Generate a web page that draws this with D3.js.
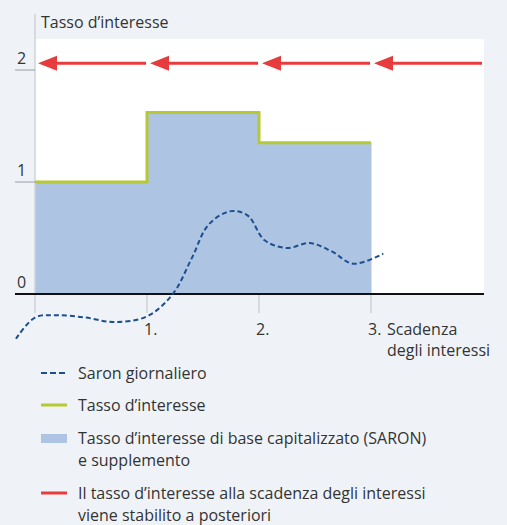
<!doctype html>
<meta charset=utf8>
<title>Tasso d'interesse SARON</title>
<style>
  body { margin: 0; background: #eff3f8; }
  svg { display: block; }
  text { font-family: "Open Sans", sans-serif; font-size: 16px; fill: #333; }
</style>
<svg width=507 height=525></svg>
<script src=https://d3js.org/d3.v7.min.js></script>
<script>
  // periods and the interest rate fixed for each one
  var periodStart = [0, 1, 2];
  var periodEnd = [1, 2, 3];
  var rates = [1.0, 1.62, 1.35];

  // arrows: rate is set at the end of each period, looking back
  var arrowFrom = [1, 2, 3, 4];
  var arrowTo = [0, 1, 2, 3];
  var arrowLevel = 2.06;

  // daily SARON
  var saronX = [-0.17, 0.0, 0.2, 0.45, 0.7, 1.0, 1.23, 1.4, 1.55, 1.75, 1.9, 2.05, 2.25, 2.45, 2.65, 2.84, 3.11];
  var saronY = [-0.40, -0.21, -0.19, -0.21, -0.25, -0.2, 0.0, 0.32, 0.62, 0.74, 0.70, 0.48, 0.41, 0.455, 0.38, 0.27, 0.36];

  var yTicks = [0, 1, 2];
  var xTicks = [0, 1, 2, 3];
  var xTickLabels = ['', '1.', '2.', '3.'];

  var legendLabels = [
    ['Saron giornaliero'],
    ['Tasso d’interesse'],
    ['Tasso d’interesse di base capitalizzato (SARON)', 'e supplemento'],
    ['Il tasso d’interesse alla scadenza degli interessi', 'viene stabilito a posteriori']
  ];

  var colors = {
    saron: '#1d4f8f',
    rate: '#b6c933',
    area: '#adc4e2',
    arrow: '#e63c3e'
  };

  var svg = d3.select('svg');
  var x = d3.scaleLinear().domain([0, 4]).range([35, 483]);
  var y = d3.scaleLinear().domain([0, 2]).range([294, 70]);

  svg.append('rect').attr('width', 507).attr('height', 525).attr('fill', '#eff3f8');

  // white plot area
  svg.append('rect')
    .attr('x', x(0)).attr('y', 39)
    .attr('width', x(4) - x(0) + 1).attr('height', y(0) - 39)
    .attr('fill', '#fff');

  // filled area under the steps
  svg.selectAll('.area')
    .data(rates)
    .enter().append('rect')
    .attr('class', 'area')
    .attr('x', function(d, i) { return x(periodStart[i]); })
    .attr('y', function(d) { return y(d); })
    .attr('width', function(d, i) { return x(periodEnd[i]) - x(periodStart[i]) + 0.5; })
    .attr('height', function(d) { return y(0) - y(d); })
    .attr('fill', colors.area);

  // vertical axis and gridline ticks
  svg.append('line')
    .attr('x1', x(0)).attr('x2', x(0)).attr('y1', 14).attr('y2', 313)
    .attr('stroke', '#cfd3d8').attr('stroke-width', 1.5);

  svg.selectAll('.xtick')
    .data(xTicks.slice(1))
    .enter().append('line')
    .attr('x1', function(d) { return x(d); })
    .attr('x2', function(d) { return x(d); })
    .attr('y1', y(0)).attr('y2', 313)
    .attr('stroke', '#cfd3d8').attr('stroke-width', 1.5);

  svg.selectAll('.ytick')
    .data(yTicks.slice(1))
    .enter().append('line')
    .attr('x1', 15).attr('x2', x(0))
    .attr('y1', function(d) { return y(d); })
    .attr('y2', function(d) { return y(d); })
    .attr('stroke', '#9a9ea4').attr('stroke-width', 1);

  svg.selectAll('.ylabel')
    .data(yTicks)
    .enter().append('text')
    .attr('x', 17)
    .attr('y', function(d) { return y(d) - 6; })
    .text(function(d) { return d; });

  svg.selectAll('.xlabel')
    .data(xTicks)
    .enter().append('text')
    .attr('x', function(d) { return x(d) - 3; })
    .attr('y', 335)
    .text(function(d, i) { return xTickLabels[i]; });

  svg.append('text').attr('x', 387).attr('y', 335).text('Scadenza');
  svg.append('text').attr('x', 387).attr('y', 356).text('degli interessi');

  svg.append('text').attr('x', 41).attr('y', 28).text('Tasso d’interesse');

  // step line for the interest rate
  var stepData = [];
  rates.forEach(function(r, i) {
    stepData.push([periodStart[i], r]);
    stepData.push([periodEnd[i], r]);
  });
  svg.append('path')
    .attr('d', d3.line().x(function(d) { return x(d[0]); }).y(function(d) { return y(d[1]); })(stepData))
    .attr('fill', 'none')
    .attr('stroke', colors.rate)
    .attr('stroke-width', 3);

  // zero axis
  svg.append('line')
    .attr('x1', 15).attr('x2', x(4) + 1)
    .attr('y1', y(0)).attr('y2', y(0))
    .attr('stroke', '#111').attr('stroke-width', 2);

  // daily saron
  var saronLine = d3.line()
    .curve(d3.curveCatmullRom)
    .x(function(d, i) { return x(saronX[i]); })
    .y(function(d) { return y(d); });
  svg.append('path')
    .attr('d', saronLine(saronY))
    .attr('fill', 'none')
    .attr('stroke', colors.saron)
    .attr('stroke-width', 2)
    .attr('stroke-dasharray', '5,3');

  // red arrows
  var arrow = svg.selectAll('.arrow')
    .data(arrowTo)
    .enter().append('g')
    .attr('class', 'arrow');

  arrow.append('line')
    .attr('x1', function(d, i) { return x(arrowFrom[i]) - 1; })
    .attr('x2', function(d) { return x(d) + 12; })
    .attr('y1', y(arrowLevel)).attr('y2', y(arrowLevel))
    .attr('stroke', colors.arrow).attr('stroke-width', 3);

  arrow.append('path')
    .attr('d', function(d) {
      var tx = x(d) + 3, ty = y(arrowLevel);
      return 'M' + tx + ',' + ty + 'L' + (tx + 19) + ',' + (ty - 7.5) + 'L' + (tx + 19) + ',' + (ty + 7.5) + 'Z';
    })
    .attr('fill', colors.arrow);

  // legend
  var legendY = [373, 405, 438, 493];
  var legend = svg.selectAll('.legend')
    .data(legendLabels)
    .enter().append('g')
    .attr('class', 'legend')
    .attr('transform', function(d, i) { return 'translate(0,' + legendY[i] + ')'; });

  legend.each(function(d, i) {
    var g = d3.select(this);
    if (i === 0) {
      g.append('line').attr('x1', 41).attr('x2', 67).attr('stroke', colors.saron)
        .attr('stroke-width', 2).attr('stroke-dasharray', '6,3');
    } else if (i === 1) {
      g.append('line').attr('x1', 41).attr('x2', 67).attr('stroke', colors.rate).attr('stroke-width', 3);
    } else if (i === 2) {
      g.append('rect').attr('x', 41).attr('y', -4).attr('width', 26).attr('height', 9).attr('fill', colors.area);
    } else {
      g.append('line').attr('x1', 41).attr('x2', 67).attr('stroke', colors.arrow).attr('stroke-width', 3);
    }
    d.forEach(function(t, j) {
      g.append('text').attr('x', 78).attr('y', 6 + j * 22).text(t);
    });
  });
</script>
